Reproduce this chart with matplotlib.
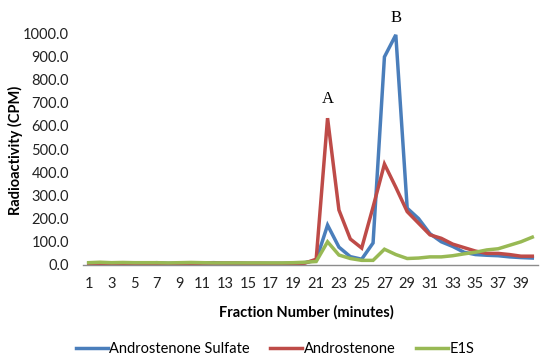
import numpy as np
import matplotlib.pyplot as plt
from matplotlib.ticker import FormatStrFormatter

fractions = list(range(1, 41))

andro_sulfate = [8, 8, 7, 8, 7, 8, 10, 7, 8, 8, 9, 10, 8, 8, 7, 7, 7, 7, 8, 10,
                 20, 172, 77, 36, 25, 95, 897, 992, 245, 200, 135, 100, 80, 55, 45, 42, 40, 35, 32, 30]
androstenone = [5, 5, 5, 5, 5, 5, 5, 5, 6, 6, 8, 8, 8, 8, 7, 7, 6, 6, 6, 8,
                25, 633, 237, 112, 73, 250, 435, 335, 230, 180, 130, 115, 90, 75, 60, 50, 50, 45, 38, 38]
e1s = [10, 12, 10, 11, 10, 10, 10, 9, 10, 11, 10, 9, 9, 9, 9, 9, 9, 9, 10, 12,
       15, 100, 43, 28, 20, 20, 68, 45, 28, 30, 35, 35, 40, 48, 55, 65, 70, 85, 100, 120]

series_names = ["Androstenone Sulfate", "Androstenone", "E1S"]
colors = ["#4A7EBB", "#BE4B48", "#98B954"]
font = "Lato"

fig = plt.figure(figsize=(5.5, 3.64), dpi=100)
ax = fig.add_axes([83 / 550, (364 - 265) / 364, (538 - 83) / 550, (265 - 33) / 364])

for vals, name, c in zip([andro_sulfate, androstenone, e1s], series_names, colors):
    ax.plot(fractions, vals, color=c, lw=2.5, label=name, solid_joinstyle="miter", clip_on=False)

ax.set_xlim(0.5, 40.5)
ax.set_ylim(0, 1000)
ax.set_xticks(fractions[::2])
ax.set_yticks(np.arange(0, 1001, 100))
ax.yaxis.set_major_formatter(FormatStrFormatter("%.1f"))
ax.tick_params(axis="x", length=0, labelsize=10.5, colors="#222222", pad=9)
ax.tick_params(axis="y", length=0, labelsize=10.5, colors="#222222", pad=10)
for lbl in ax.get_xticklabels() + ax.get_yticklabels():
    lbl.set_family(font)

for s in ["top", "right", "left"]:
    ax.spines[s].set_visible(False)
ax.spines["bottom"].set_color("#8C8C8C")
ax.spines["bottom"].set_linewidth(1.0)

ax.set_xlabel("Fraction Number (minutes)", fontsize=10.5, fontweight="bold", family=font)
ax.set_ylabel("Radioactivity (CPM)", fontsize=10.5, fontweight="bold", family=font)
ax.xaxis.set_label_coords((306 - 83) / 455, -(305 - 265) / 232)
ax.yaxis.set_label_coords(-(83 - 23) / 455, (265 - 150) / 232)

ax.text(22, 680, "A", ha="center", va="bottom", fontsize=12, family="Liberation Serif")
ax.text(28, 1030, "B", ha="center", va="bottom", fontsize=12, family="Liberation Serif", clip_on=False)

fig.legend(loc="center", bbox_to_anchor=(0.5, 1 - 349 / 364), ncol=3, frameon=False,
           prop={"family": font, "size": 10.5}, handlelength=2.2, handletextpad=0.1,
           columnspacing=1.4)

fig.savefig("out.png", dpi=100)
